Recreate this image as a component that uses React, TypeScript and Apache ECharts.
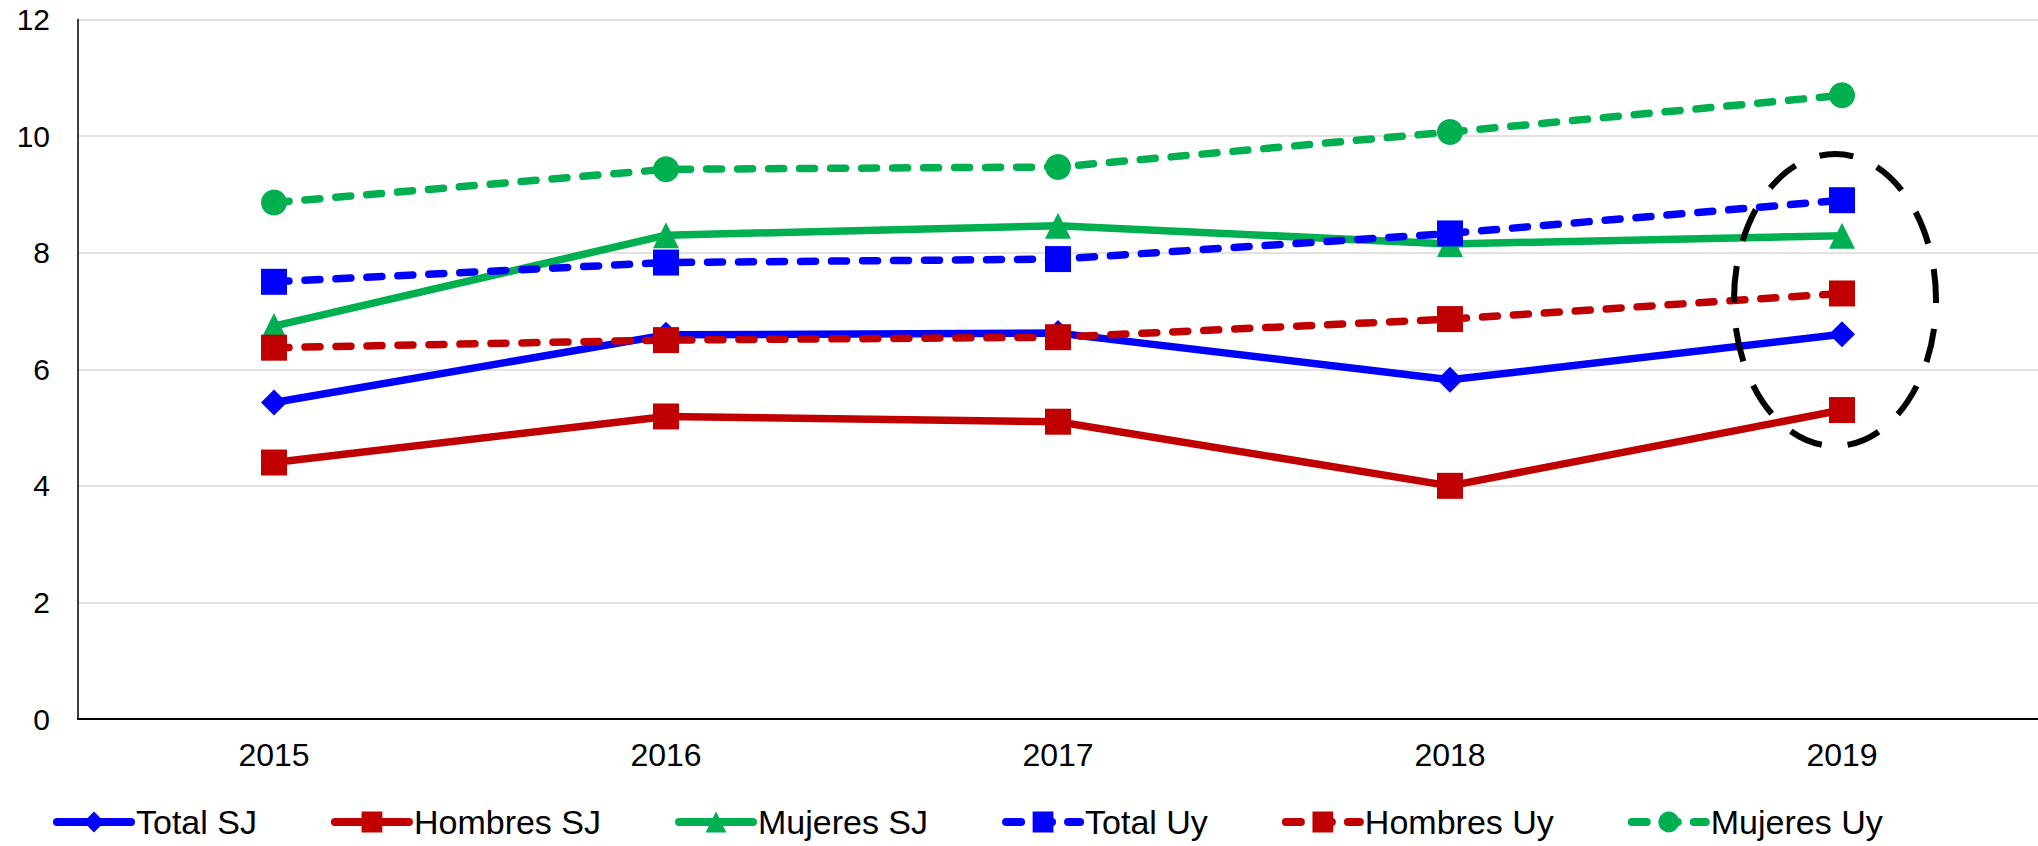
import React, { useEffect, useRef } from "react";
import * as echarts from "echarts";

const years = ["2015", "2016", "2017", "2018", "2019"];
const yTicks = { min: 0, max: 12, interval: 2 };

const totalSJ = [5.43, 6.59, 6.62, 5.82, 6.6];
const hombresSJ = [4.4, 5.19, 5.1, 4.0, 5.3];
const mujeresSJ = [6.74, 8.3, 8.46, 8.15, 8.29];
const totalUy = [7.5, 7.83, 7.89, 8.33, 8.9];
const hombresUy = [6.37, 6.5, 6.55, 6.86, 7.3];
const mujeresUy = [8.86, 9.43, 9.47, 10.07, 10.7];

const seriesNames = ["Total SJ", "Hombres SJ", "Mujeres SJ", "Total Uy", "Hombres Uy", "Mujeres Uy"];

const BLUE = "#0000FF";
const RED = "#C00000";
const GREEN = "#00B050";
const FONT = "'Liberation Sans', Arial, sans-serif";

export default function App() {
  const ref = useRef<HTMLDivElement>(null);
  useEffect(() => {
    if (!ref.current) return;
    const chart = echarts.init(ref.current, null, { renderer: "svg" });
    const mk = (name: string, data: number[], color: string, symbol: string, dashed: boolean) => ({
      name,
      type: "line",
      data,
      symbol,
      symbolSize: 26,
      showSymbol: true,
      showAllSymbol: true,
      itemStyle: { color },
      lineStyle: {
        color,
        width: 7.5,
        type: dashed ? [15, 16] : "solid",
        cap: dashed ? "round" : "butt",
      },
      emphasis: { disabled: true },
    });
    chart.setOption({
      animation: false,
      textStyle: { fontFamily: FONT },
      grid: { left: 78, top: 19.5, width: 1969, height: 699.5, containLabel: false },
      xAxis: {
        type: "category",
        data: years,
        boundaryGap: true,
        axisTick: { show: false },
        axisLine: { show: true, lineStyle: { color: "#000", width: 2 } },
        axisLabel: { fontSize: 32, color: "#000", margin: 20, fontFamily: FONT },
        splitLine: { show: false },
      },
      yAxis: {
        type: "value",
        min: yTicks.min,
        max: yTicks.max,
        interval: yTicks.interval,
        axisLine: { show: true, lineStyle: { color: "#000", width: 1.5 } },
        axisTick: { show: false },
        axisLabel: { fontSize: 30, color: "#000", margin: 28, fontFamily: FONT },
        splitLine: { show: true, lineStyle: { color: "#D9D9D9", width: 1.5 } },
      },
      legend: {
        data: seriesNames,
        left: 48,
        top: 800,
        itemWidth: 74,
        itemHeight: 26,
        itemGap: 74,
        lineStyle: { width: 8, cap: "round" },
        textStyle: { fontSize: 34, color: "#000", fontFamily: FONT },
      },
      series: [
        mk(seriesNames[0], totalSJ, BLUE, "diamond", false),
        mk(seriesNames[1], hombresSJ, RED, "rect", false),
        mk(seriesNames[2], mujeresSJ, GREEN, "triangle", false),
        mk(seriesNames[3], totalUy, BLUE, "rect", true),
        mk(seriesNames[4], hombresUy, RED, "rect", true),
        mk(seriesNames[5], mujeresUy, GREEN, "circle", true),
      ],
      graphic: [
        {
          type: "ellipse",
          z: 100,
          shape: { cx: 1835, cy: 300, rx: 101, ry: 146 },
          style: { fill: "none", stroke: "#000", lineWidth: 6, lineDash: [34, 26] },
        },
      ],
    });
    return () => chart.dispose();
  }, []);
  return (
    <div
      ref={ref}
      style={{ position: "absolute", left: 0, top: 0, width: 2038, height: 846, background: "#fff" }}
    />
  );
}
